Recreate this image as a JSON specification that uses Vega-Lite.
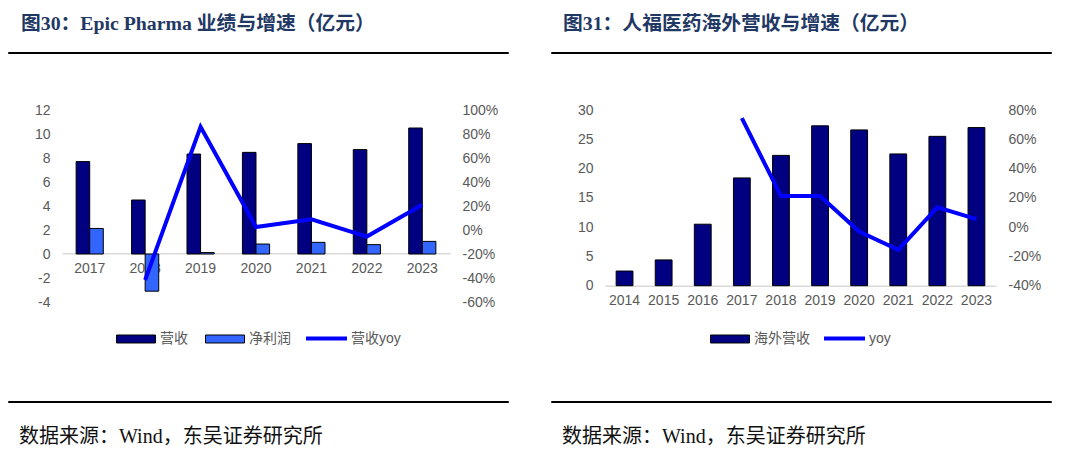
{
  "$schema": "https://vega.github.io/schema/vega-lite/v6.json",
  "padding": {"left": 7, "top": 13, "right": 0, "bottom": 0},
  "background": "white",
  "config": {
    "view": {"stroke": null},
    "font": "Liberation Sans, Noto Sans CJK SC",
    "axis": {"labelFont": "Liberation Sans, Noto Sans CJK SC", "labelFontSize": 14, "labelColor": "#595959", "grid": false, "ticks": false, "tickSize": 0, "title": null},
    "legend": {"labelFont": "Liberation Sans, Noto Sans CJK SC", "labelFontSize": 14, "labelColor": "#595959", "title": null}
  },
  "spacing": 41,
  "resolve": {"scale": {"fill": "independent", "stroke": "independent", "x": "independent", "y": "independent"}, "legend": {"fill": "independent", "stroke": "independent"}},
  "hconcat": [
    {
      "spacing": 0,
      "vconcat": [
        {
          "width": 500, "height": 1,
          "data": {"values": []},
          "mark": "point",
          "encoding": {},
          "view": {"stroke": "black", "strokeWidth": 1},
          "title": {"text": "图30：Epic Pharma 业绩与增速（亿元）", "anchor": "start", "dx": 13, "offset": 18.5, "font": "Liberation Serif, Noto Sans CJK SC", "fontSize": 19.8, "fontWeight": "bold", "color": "#1F3864"}
        },
        {
          "width": 500, "height": 346,
          "layer": [
            {
              "data": {"values": [
                {"year": "2017", "series": "营收", "value": 7.7},
                {"year": "2018", "series": "营收", "value": 4.5},
                {"year": "2019", "series": "营收", "value": 8.33},
                {"year": "2020", "series": "营收", "value": 8.47},
                {"year": "2021", "series": "营收", "value": 9.2},
                {"year": "2022", "series": "营收", "value": 8.7},
                {"year": "2023", "series": "营收", "value": 10.5},
                {"year": "2017", "series": "净利润", "value": 2.13},
                {"year": "2018", "series": "净利润", "value": -3.1},
                {"year": "2019", "series": "净利润", "value": 0.12},
                {"year": "2020", "series": "净利润", "value": 0.83},
                {"year": "2021", "series": "净利润", "value": 0.97},
                {"year": "2022", "series": "净利润", "value": 0.78},
                {"year": "2023", "series": "净利润", "value": 1.05}
              ]},
              "mark": {"type": "bar", "stroke": "black", "strokeWidth": 1},
              "encoding": {
                "x": {"field": "year", "type": "ordinal",
                  "scale": {"domain": ["2017","2018","2019","2020","2021","2022","2023"], "range": [54, 442], "paddingInner": 0.51, "paddingOuter": 0.255},
                  "axis": {"orient": "bottom", "offset": -146.7, "domain": true, "domainColor": "#D9D9D9", "domainWidth": 1.5, "labelPadding": 8, "labelAngle": 0}},
                "xOffset": {"field": "series", "type": "nominal", "sort": ["营收", "净利润"], "scale": {"paddingInner": 0, "paddingOuter": 0}},
                "y": {"field": "value", "type": "quantitative",
                  "scale": {"domain": [-4, 12], "range": [248, 56], "nice": false, "zero": false},
                  "axis": {"orient": "left", "offset": -54, "domain": false, "labelPadding": 12, "values": [-4,-2,0,2,4,6,8,10,12], "labelExpr": "replace(format(datum.value, 'd'), '\u2212', '-')"}},
                "fill": {"field": "series", "type": "nominal", "sort": ["营收", "净利润"],
                  "scale": {"domain": ["营收", "净利润"], "range": ["#000080", "#3366FF"]},
                  "legend": {"orient": "none", "legendX": 108, "legendY": 265, "direction": "horizontal", "symbolType": "M-1,-0.205H1V0.205H-1Z", "symbolSize": 1521, "symbolStrokeColor": "black", "symbolStrokeWidth": 1, "symbolOpacity": 1, "labelOffset": 4, "columnPadding": 15}}
              }
            },
            {
              "data": {"values": [
                {"year": "2018", "series": "营收yoy", "yoy": -0.417},
                {"year": "2019", "series": "营收yoy", "yoy": 0.86},
                {"year": "2020", "series": "营收yoy", "yoy": 0.025},
                {"year": "2021", "series": "营收yoy", "yoy": 0.089},
                {"year": "2022", "series": "营收yoy", "yoy": -0.055},
                {"year": "2023", "series": "营收yoy", "yoy": 0.21}
              ]},
              "mark": {"type": "line", "strokeWidth": 4},
              "encoding": {
                "x": {"field": "year", "type": "ordinal",
                  "scale": {"domain": ["2017","2018","2019","2020","2021","2022","2023"], "range": [54, 442], "paddingInner": 0.51, "paddingOuter": 0.255}},
                "y": {"field": "yoy", "type": "quantitative",
                  "scale": {"domain": [-0.6, 1.0], "range": [248, 56], "nice": false, "zero": false},
                  "axis": {"orient": "right", "offset": -58, "domain": false, "labelPadding": 12, "values": [-0.6,-0.4,-0.2,0,0.2,0.4,0.6,0.8,1.0], "labelExpr": "replace(format(datum.value, '.0%'), '\u2212', '-')"}},
                "stroke": {"field": "series", "type": "nominal",
                  "scale": {"domain": ["营收yoy"], "range": ["#0000FF"]},
                  "legend": {"orient": "none", "legendX": 296, "legendY": 262, "direction": "horizontal", "symbolType": "stroke", "symbolSize": 1681, "symbolStrokeWidth": 4, "labelOffset": 2}}
              }
            }
          ],
          "resolve": {"scale": {"y": "independent"}}
        },
        {
          "width": 500, "height": 1,
          "data": {"values": []},
          "mark": "point",
          "encoding": {},
          "view": {"stroke": "black", "strokeWidth": 1},
          "title": {"text": "数据来源：Wind，东吴证券研究所", "orient": "bottom", "anchor": "start", "dx": 11, "offset": 25, "font": "Liberation Serif, Noto Sans CJK SC", "fontSize": 20, "fontWeight": "normal", "color": "#111111"}
        }
      ],
      "resolve": {"scale": {"fill": "independent", "stroke": "independent"}, "legend": {"fill": "independent", "stroke": "independent"}}
    },
    {
      "spacing": 0,
      "vconcat": [
        {
          "width": 500, "height": 1,
          "data": {"values": []},
          "mark": "point",
          "encoding": {},
          "view": {"stroke": "black", "strokeWidth": 1},
          "title": {"text": "图31：人福医药海外营收与增速（亿元）", "anchor": "start", "dx": 12, "offset": 18.5, "font": "Liberation Serif, Noto Sans CJK SC", "fontSize": 19.8, "fontWeight": "bold", "color": "#1F3864"}
        },
        {
          "width": 500, "height": 346,
          "layer": [
            {
              "data": {"values": [
                {"year": "2014", "series": "海外营收", "value": 2.5},
                {"year": "2015", "series": "海外营收", "value": 4.4},
                {"year": "2016", "series": "海外营收", "value": 10.5},
                {"year": "2017", "series": "海外营收", "value": 18.4},
                {"year": "2018", "series": "海外营收", "value": 22.25},
                {"year": "2019", "series": "海外营收", "value": 27.3},
                {"year": "2020", "series": "海外营收", "value": 26.6},
                {"year": "2021", "series": "海外营收", "value": 22.5},
                {"year": "2022", "series": "海外营收", "value": 25.5},
                {"year": "2023", "series": "海外营收", "value": 27.0}
              ]},
              "mark": {"type": "bar", "stroke": "black", "strokeWidth": 1},
              "encoding": {
                "x": {"field": "year", "type": "ordinal",
                  "scale": {"domain": ["2014","2015","2016","2017","2018","2019","2020","2021","2022","2023"], "range": [54, 445], "paddingInner": 0.57, "paddingOuter": 0.285},
                  "axis": {"orient": "bottom", "offset": -114.3, "domain": true, "domainColor": "#D9D9D9", "domainWidth": 1.5, "labelPadding": 8, "labelAngle": 0}},
                "y": {"field": "value", "type": "quantitative",
                  "scale": {"domain": [0, 30], "range": [231.7, 56], "nice": false, "zero": false},
                  "axis": {"orient": "left", "offset": -54, "domain": false, "labelPadding": 12, "values": [0,5,10,15,20,25,30]}},
                "fill": {"field": "series", "type": "nominal",
                  "scale": {"domain": ["海外营收"], "range": ["#000080"]},
                  "legend": {"orient": "none", "legendX": 159, "legendY": 265, "direction": "horizontal", "symbolType": "M-1,-0.205H1V0.205H-1Z", "symbolSize": 1521, "symbolStrokeColor": "black", "symbolStrokeWidth": 1, "symbolOpacity": 1, "labelOffset": 4}}
              }
            },
            {
              "data": {"values": [
                {"year": "2017", "series": "yoy", "yoy": 0.745},
                {"year": "2018", "series": "yoy", "yoy": 0.212},
                {"year": "2019", "series": "yoy", "yoy": 0.212},
                {"year": "2020", "series": "yoy", "yoy": -0.03},
                {"year": "2021", "series": "yoy", "yoy": -0.155},
                {"year": "2022", "series": "yoy", "yoy": 0.135},
                {"year": "2023", "series": "yoy", "yoy": 0.055}
              ]},
              "mark": {"type": "line", "strokeWidth": 4},
              "encoding": {
                "x": {"field": "year", "type": "ordinal",
                  "scale": {"domain": ["2014","2015","2016","2017","2018","2019","2020","2021","2022","2023"], "range": [54, 445], "paddingInner": 0.57, "paddingOuter": 0.285}},
                "y": {"field": "yoy", "type": "quantitative",
                  "scale": {"domain": [-0.4, 0.8], "range": [231.7, 56], "nice": false, "zero": false},
                  "axis": {"orient": "right", "offset": -55, "domain": false, "labelPadding": 12, "values": [-0.4,-0.2,0,0.2,0.4,0.6,0.8], "labelExpr": "replace(format(datum.value, '.0%'), '\u2212', '-')"}},
                "stroke": {"field": "series", "type": "nominal",
                  "scale": {"domain": ["yoy"], "range": ["#0000FF"]},
                  "legend": {"orient": "none", "legendX": 271, "legendY": 262, "direction": "horizontal", "symbolType": "stroke", "symbolSize": 1681, "symbolStrokeWidth": 4, "labelOffset": 2}}
              }
            }
          ],
          "resolve": {"scale": {"y": "independent"}}
        },
        {
          "width": 500, "height": 1,
          "data": {"values": []},
          "mark": "point",
          "encoding": {},
          "view": {"stroke": "black", "strokeWidth": 1},
          "title": {"text": "数据来源：Wind，东吴证券研究所", "orient": "bottom", "anchor": "start", "dx": 11, "offset": 25, "font": "Liberation Serif, Noto Sans CJK SC", "fontSize": 20, "fontWeight": "normal", "color": "#111111"}
        }
      ],
      "resolve": {"scale": {"fill": "independent", "stroke": "independent"}, "legend": {"fill": "independent", "stroke": "independent"}}
    }
  ]
}
